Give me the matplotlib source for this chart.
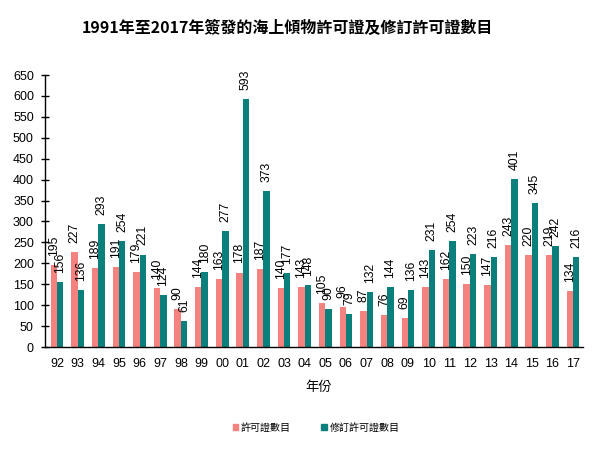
import matplotlib
matplotlib.use("Agg")
import matplotlib.pyplot as plt
import numpy as np
from matplotlib.patches import Patch

years = ["92", "93", "94", "95", "96", "97", "98", "99", "00", "01", "02", "03", "04",
         "05", "06", "07", "08", "09", "10", "11", "12", "13", "14", "15", "16", "17"]
permits = [195, 227, 189, 191, 179, 140, 90, 144, 163, 178, 187, 140, 143,
           105, 96, 87, 76, 69, 143, 162, 150, 147, 243, 220, 219, 134]
revised = [156, 136, 293, 254, 221, 124, 61, 180, 277, 593, 373, 177, 148,
           90, 79, 132, 144, 136, 231, 254, 223, 216, 401, 345, 242, 216]

title = "1991年至2017年簽發的海上傾物許可證及修訂許可證數目"
xlabel = "年份"
series_names = ["許可證數目", "修訂許可證數目"]
yticks = list(range(0, 651, 50))

pink = "#F4837F"
teal = "#0B7F7B"
cjk = ["Noto Sans CJK TC", "DejaVu Sans"]
latin = ["Liberation Sans", "DejaVu Sans"]

fig = plt.figure(figsize=(5.96, 4.5), dpi=100)
ax = fig.add_axes([45/596, 1-347/450, (583-45)/596, (347-75)/450])

x = np.arange(len(years))
w = 0.31
b1 = ax.bar(x - w/2, permits, width=w, color=pink, zorder=2)
b2 = ax.bar(x + w/2, revised, width=w, color=teal, zorder=2)

for rects, vals in ((b1, permits), (b2, revised)):
    for r, v in zip(rects, vals):
        ax.annotate(str(v), (r.get_x() + r.get_width()/2, r.get_height()),
                    xytext=(0, 6.5), textcoords="offset points",
                    rotation=90, ha="center", va="bottom",
                    fontsize=8.7, family=latin, color="black")

ax.set_xlim(-0.58, 25.48)
ax.set_ylim(0, 650)
ax.set_yticks(yticks)
ax.set_xticks(x)
ax.set_xticklabels(years)
for lab in ax.get_xticklabels() + ax.get_yticklabels():
    lab.set_family(latin)
    lab.set_fontsize(9)
ax.tick_params(axis="x", length=0, pad=8)
ax.tick_params(axis="y", direction="inout", length=6, width=1, pad=5)
for s in ("top", "right"):
    ax.spines[s].set_visible(False)
ax.spines["left"].set_linewidth(1)
ax.spines["bottom"].set_linewidth(1)

fig.text(287/596, 1-28/450, title, ha="center", va="center",
         fontsize=11.5, family=cjk, fontweight="bold")
fig.text(319/596, 1-388/450, xlabel, ha="center", va="center",
         fontsize=9.5, family=cjk)

handles = [Patch(color=pink, label=series_names[0]),
           Patch(color=teal, label=series_names[1])]
fig.legend(handles=handles, loc="center", bbox_to_anchor=(316/596, 1-428/450),
           ncol=2, frameon=False, prop={"family": cjk, "size": 7.2},
           handlelength=0.55, handleheight=0.55, handletextpad=0.3,
           columnspacing=3.0)

fig.savefig("out.png", dpi=100)
